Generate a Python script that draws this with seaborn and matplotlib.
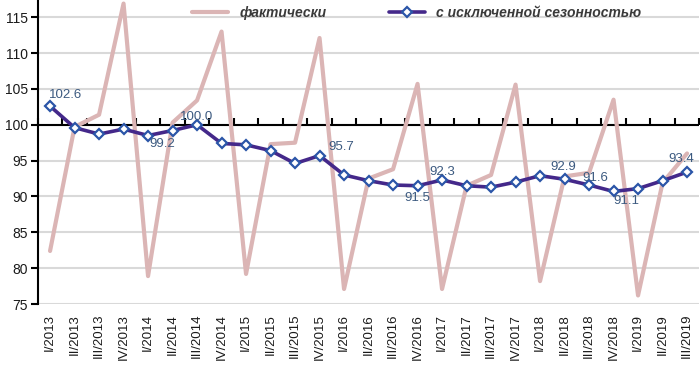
import numpy as np
import pandas as pd
import matplotlib
matplotlib.use("Agg")
import matplotlib.pyplot as plt
import seaborn as sns

# ---------------------------------------------------------
# DATA (quarterly index)
# ---------------------------------------------------------

quarters = [
    "I/2013", "II/2013", "III/2013", "IV/2013",
    "I/2014", "II/2014", "III/2014", "IV/2014",
    "I/2015", "II/2015", "III/2015", "IV/2015",
    "I/2016", "II/2016", "III/2016", "IV/2016",
    "I/2017", "II/2017", "III/2017", "IV/2017",
    "I/2018", "II/2018", "III/2018", "IV/2018",
    "I/2019", "II/2019", "III/2019",
]

actual = [
    82.4, 99.7, 101.4, 116.9,
    78.9, 100.3, 103.4, 113.0,
    79.2, 97.3, 97.5, 112.1,
    77.1, 92.5, 93.8, 105.7,
    77.1, 91.5, 93.0, 105.6,
    78.2, 92.8, 93.3, 103.5,
    76.2, 91.9, 96.0,
]

seas_adj = [
    102.6, 99.6, 98.7, 99.4,
    98.5, 99.2, 100.0, 97.4,
    97.2, 96.4, 94.6, 95.7,
    93.0, 92.2, 91.6, 91.5,
    92.3, 91.5, 91.3, 92.0,
    92.9, 92.4, 91.6, 90.7,
    91.1, 92.2, 93.4,
]

series_names = ["фактически", "с исключенной сезонностью"]

# points that carry a value label, and where the label sits (pixels)
labeled_idx = [0, 5, 6, 11, 15, 16, 20, 22, 24, 26]
label_offsets = [(16, 11), (-10, -13), (0, 8), (22, 9), (0, -12),
                 (0, 8), (23, 9), (6, 7), (-12, -12), (-6, 13)]

df = pd.DataFrame({
    "pos": np.arange(len(quarters)),
    "quarter": quarters,
    "actual": actual,
    "seas_adj": seas_adj,
})

# ---------------------------------------------------------
# PLOT
# ---------------------------------------------------------

sns.set_theme(style="white")
plt.rcParams["font.family"] = ["Liberation Sans", "DejaVu Sans"]

fig = plt.figure(figsize=(7, 3.65), dpi=100)
ax = fig.add_axes([0.054, 0.167, 0.945, 0.833])

# black category axis line crossing at 100
ax.axhline(100, color="black", linewidth=1.5, zorder=1.5)

sns.lineplot(data=df, x="pos", y="actual", ax=ax, color="#dbb5b5",
             linewidth=3, label=series_names[0], zorder=2)
sns.lineplot(data=df, x="pos", y="seas_adj", ax=ax, color="#44288a",
             linewidth=2.6, marker="D", markersize=5.5,
             markerfacecolor="white", markeredgecolor="#2b55a8",
             markeredgewidth=1.6, label=series_names[1], zorder=3)

ax.set_xlim(-0.5, len(quarters) - 0.5)
ax.set_ylim(75, 117.4)
ax.set_yticks(np.arange(75, 116, 5))
ax.yaxis.grid(True, color="#d9d9d9", linewidth=1.5)
ax.set_axisbelow(True)

ax.set_xticks(df["pos"])
ax.set_xticklabels(quarters, rotation=90, fontsize=9.5, color="#1a1a1a")
ax.tick_params(axis="x", length=0, pad=7)
ax.tick_params(axis="y", length=5, width=1.5, color="black", pad=2,
               labelsize=10, labelcolor="#1a1a1a", left=True)
ax.set_xlabel("")
ax.set_ylabel("")

for side in ["top", "right", "bottom"]:
    ax.spines[side].set_visible(False)
ax.spines["left"].set_color("black")
ax.spines["left"].set_linewidth(1.5)

# tick marks between quarters on the 100 line
cross = (100 - 75) / (117.4 - 75)
secax = ax.secondary_xaxis(cross)
secax.set_xticks(np.arange(len(quarters) + 1) - 0.5)
secax.set_xticklabels([])
secax.xaxis.set_ticks_position("top")
secax.tick_params(axis="x", direction="out", length=5, width=1.5, color="black")
for side in ["top", "bottom"]:
    secax.spines[side].set_visible(False)

# value labels on the seasonally adjusted series
for i, (dx, dy) in zip(labeled_idx, label_offsets):
    ax.annotate(f"{seas_adj[i]:.1f}", xy=(i, seas_adj[i]), xytext=(dx, dy),
                textcoords="offset pixels", ha="center", va="center",
                fontsize=9.5, color="#3c5a80", zorder=4)

ax.legend(loc="center", bbox_to_anchor=(0.595, 0.964), bbox_transform=fig.transFigure,
          ncol=2, frameon=False, handlelength=2.6, columnspacing=4.5,
          prop=dict(style="italic", weight="bold", size=10), labelcolor="#3a3a3a")

fig.savefig("out.png", dpi=100)
